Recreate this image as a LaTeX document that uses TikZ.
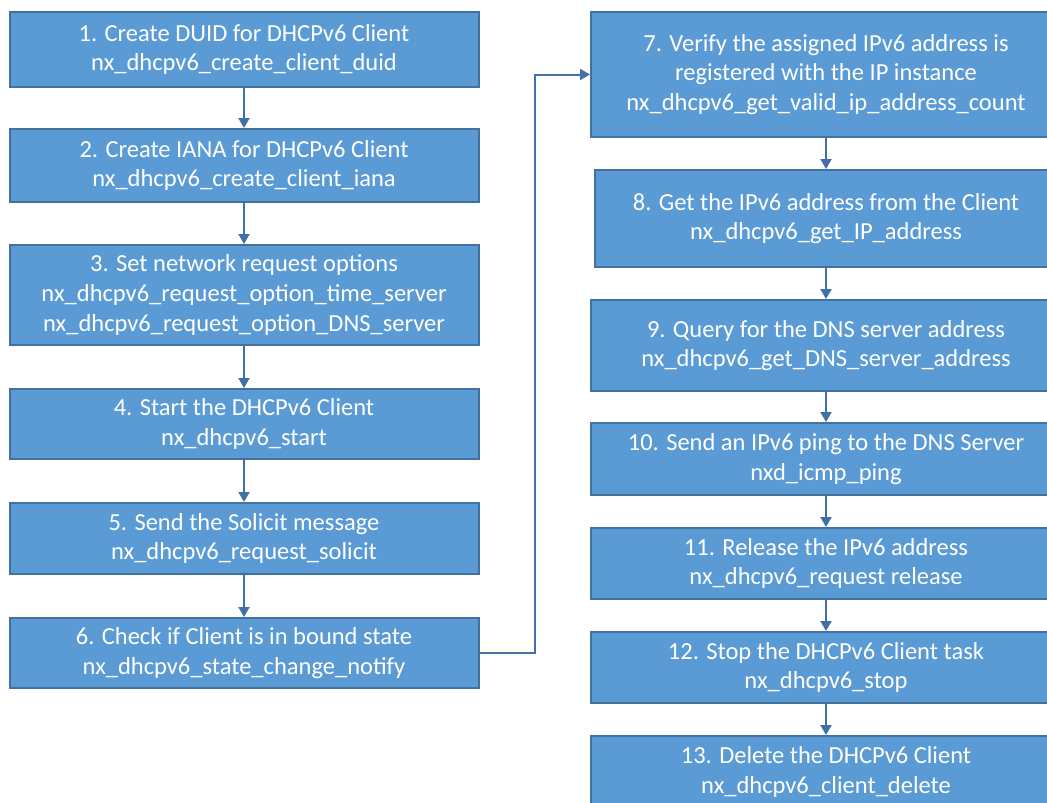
\documentclass[tikz,border=0pt]{standalone}
\usepackage{fontspec}
\setmainfont{Carlito}
\usetikzlibrary{arrows.meta}
\definecolor{boxfill}{HTML}{5B9BD5}
\definecolor{boxline}{HTML}{41719C}
\definecolor{linkcol}{HTML}{4170A8}
\begin{document}
\begin{tikzpicture}[x=1pt,y=-1pt,
  stepbox/.style={draw=boxline, line width=2pt, fill=boxfill, rectangle,
    text=white, align=center, inner sep=0pt,
    font=\fontsize{24.5}{29.7}\selectfont},
  link/.style={draw=linkcol, line width=2pt,
    -{Triangle[width=11pt,length=10pt]}}]
\clip (0,0) rectangle (1047,803);
\fill[white] (0,0) rectangle (1047,803);

% left column
\node[stepbox, minimum width=469, minimum height=75] (s1) at (244,49.5)
  {1. Create DUID for DHCPv6 Client\\nx\_dhcpv6\_create\_client\_duid};
\node[stepbox, minimum width=469, minimum height=73] (s2) at (244,165.5)
  {2. Create IANA for DHCPv6 Client\\nx\_dhcpv6\_create\_client\_iana};
\node[stepbox, minimum width=469, minimum height=100] (s3) at (244,295)
  {3. Set network request options\\nx\_dhcpv6\_request\_option\_time\_server\\nx\_dhcpv6\_request\_option\_DNS\_server};
\node[stepbox, minimum width=469, minimum height=70] (s4) at (244,424)
  {4. Start the DHCPv6 Client\\nx\_dhcpv6\_start};
\node[stepbox, minimum width=469, minimum height=71] (s5) at (244,538.5)
  {5. Send the Solicit message\\nx\_dhcpv6\_request\_solicit};
\node[stepbox, minimum width=469, minimum height=70] (s6) at (244,653)
  {6. Check if Client is in bound state\\nx\_dhcpv6\_state\_change\_notify};

% right column
\node[stepbox, minimum width=470, minimum height=125] (s7) at (826,74.5)
  {7. Verify the assigned IPv6 address is\\registered with the IP instance\\nx\_dhcpv6\_get\_valid\_ip\_address\_count};
\node[stepbox, minimum width=462, minimum height=97] (s8) at (826,218.5)
  {8. Get the IPv6 address from the Client\\nx\_dhcpv6\_get\_IP\_address};
\node[stepbox, minimum width=470, minimum height=91] (s9) at (826,345.5)
  {9. Query for the DNS server address\\nx\_dhcpv6\_get\_DNS\_server\_address};
\node[stepbox, minimum width=470, minimum height=72] (s10) at (826,459)
  {10. Send an IPv6 ping to the DNS Server\\nxd\_icmp\_ping};
\node[stepbox, minimum width=470, minimum height=71] (s11) at (826,563.5)
  {11. Release the IPv6 address\\nx\_dhcpv6\_request release};
\node[stepbox, minimum width=470, minimum height=71] (s12) at (826,667.5)
  {12. Stop the DHCPv6 Client task\\nx\_dhcpv6\_stop};
\node[stepbox, minimum width=470, minimum height=72] (s13) at (826,772)
  {13. Delete the DHCPv6 Client\\nx\_dhcpv6\_client\_delete};

% connectors
\foreach \a/\b in {s1/s2,s2/s3,s3/s4,s4/s5,s5/s6,s7/s8,s8/s9,s9/s10,s10/s11,s11/s12,s12/s13}
  \draw[link] (\a.south) -- (\b.north);
\coordinate (elbow) at (535,653);
\draw[link] (s6.east) -- (elbow) |- (s7.west);
\end{tikzpicture}
\end{document}
